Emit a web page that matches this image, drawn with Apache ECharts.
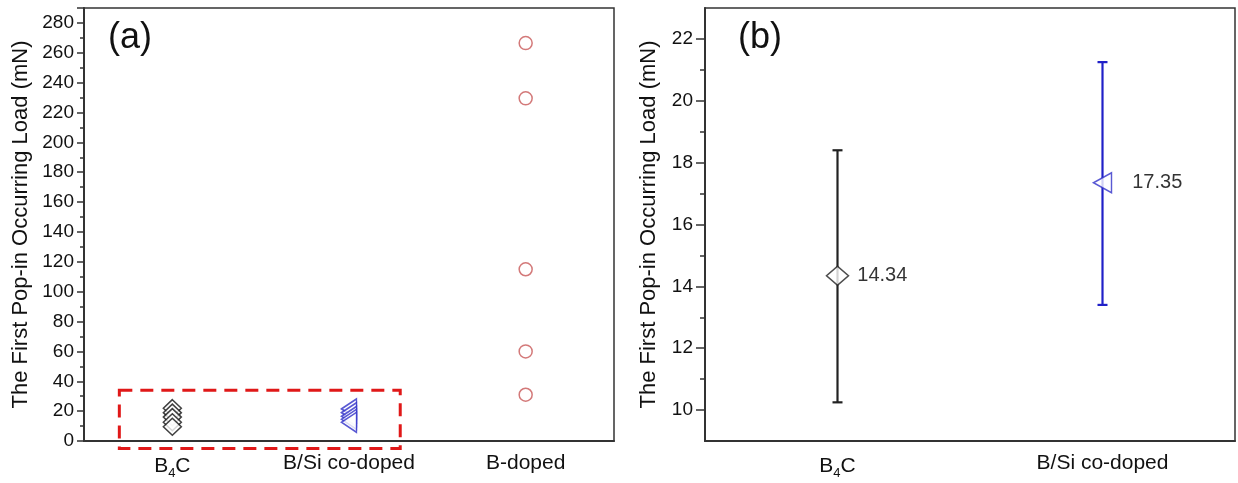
<!DOCTYPE html>
<html>
<head>
<meta charset="utf-8">
<script src="https://cdn.jsdelivr.net/npm/echarts@6/dist/echarts.min.js"></script>
<style>
  html, body { margin: 0; padding: 0; background: #fff; }
  #main { width: 1238px; height: 483px; }
</style>
</head>
<body>
<div id="main"></div>
<script>
// (a) individual pop-in loads
const catsA = ['B4C', 'B/Si co-doped', 'B-doped'];
const b4cLoads = [22, 19, 16, 12.5, 9.5];
const bsiLoads = [21.5, 19, 16.5, 14.5, 12.5];
const bDopedLoads = [266.5, 229.5, 115, 60, 31];
// dashed box round the low values: [x from, x to] in categories, [y from, y to] in mN
const boxX = [-0.3, 1.29];
const boxY = [-5, 34];

// (b) mean with error bar
const catsB = ['B4C', 'B/Si co-doped'];
const meanLoads = [14.34, 17.35];
const lowLoads = [10.25, 13.4];
const highLoads = [18.4, 21.25];
const ticksB = [10, 12, 14, 16, 18, 20, 22];
const minorTicksB = [11, 13, 15, 17, 19, 21];

const font = 'Liberation Sans, Arial, sans-serif';
const axisColor = '#333';
const textColor = '#111';

function catLabel(v) {
    if (v === 'B4C') return '{n|B}{s|4}{n|C}';
    return '{n|' + v + '}';
}
const catRich = {
    n: { fontSize: 21, fontFamily: font, color: textColor },
    s: { fontSize: 13, fontFamily: font, color: textColor, padding: [14, 0, 0, 0] }
};

const yName = 'The First Pop-in Occurring Load (mN)';

let option = {
    animation: false,
    graphic: [
        { type: 'text', left: 108, top: 20, style: { text: '(a)', font: '36px ' + font, fill: '#111' } },
        { type: 'text', left: 738, top: 20, style: { text: '(b)', font: '36px ' + font, fill: '#111' } }
    ],
    grid: [
        { left: 84, top: 8, width: 530, bottom: 42, show: true, borderColor: axisColor, borderWidth: 1.5 },
        { left: 705, top: 8, width: 530, bottom: 42, show: true, borderColor: axisColor, borderWidth: 1.5 }
    ],
    xAxis: [
        {
            type: 'category', gridIndex: 0, data: catsA,
            axisLine: { lineStyle: { color: axisColor, width: 2 } },
            axisTick: { alignWithLabel: true, length: 7, lineStyle: { color: axisColor, width: 1.5 } },
            axisLabel: { margin: 12, formatter: catLabel, rich: catRich },
            splitLine: { show: false }
        },
        {
            type: 'category', gridIndex: 1, data: catsB,
            axisLine: { lineStyle: { color: axisColor, width: 2 } },
            axisTick: { alignWithLabel: true, length: 7, lineStyle: { color: axisColor, width: 1.5 } },
            axisLabel: { margin: 12, formatter: catLabel, rich: catRich },
            splitLine: { show: false }
        }
    ],
    yAxis: [
        {
            type: 'value', gridIndex: 0, min: 0, max: 290, interval: 20,
            name: yName, nameLocation: 'middle', nameGap: 52,
            nameTextStyle: { fontSize: 22, fontFamily: font, color: textColor },
            axisLine: { show: true, lineStyle: { color: axisColor, width: 2 } },
            axisTick: { show: true, length: 7, lineStyle: { color: axisColor, width: 1.5 } },
            minorTick: { show: true, splitNumber: 2, length: 4, lineStyle: { color: axisColor, width: 1.5 } },
            axisLabel: { fontSize: 19, fontFamily: font, color: textColor, margin: 10 },
            splitLine: { show: false }
        },
        {
            type: 'value', gridIndex: 1, min: 9, max: 23,
            name: yName, nameLocation: 'middle', nameGap: 45,
            nameTextStyle: { fontSize: 22, fontFamily: font, color: textColor },
            axisLine: { show: true, lineStyle: { color: axisColor, width: 2 } },
            axisTick: { show: true, length: 9, customValues: ticksB, lineStyle: { color: axisColor, width: 1.5 } },
            axisLabel: { fontSize: 19, fontFamily: font, color: textColor, margin: 12, customValues: ticksB },
            splitLine: { show: false }
        },
        {
            // minor ticks of (b)
            type: 'value', gridIndex: 1, min: 9, max: 23, position: 'left',
            axisLine: { show: false },
            axisTick: { show: true, length: 5, customValues: minorTicksB, lineStyle: { color: axisColor, width: 1.5 } },
            axisLabel: { show: false },
            splitLine: { show: false }
        }
    ],
    series: [
        {
            type: 'scatter', xAxisIndex: 0, yAxisIndex: 0,
            symbol: 'diamond', symbolSize: [18, 17],
            itemStyle: { color: '#fff', borderColor: '#111', borderWidth: 1.5 },
            data: b4cLoads.map(v => [0, v])
        },
        {
            type: 'scatter', xAxisIndex: 0, yAxisIndex: 0,
            symbol: 'triangle', symbolRotate: 90, symbolSize: [20, 15],
            itemStyle: { color: '#fff', borderColor: '#3030c8', borderWidth: 1.5 },
            data: bsiLoads.map(v => [1, v])
        },
        {
            type: 'scatter', xAxisIndex: 0, yAxisIndex: 0,
            symbol: 'circle', symbolSize: 13,
            itemStyle: { color: 'rgba(255,255,255,0)', borderColor: '#c85858', borderWidth: 1.5 },
            data: bDopedLoads.map(v => [2, v])
        },
        {
            // dashed box
            type: 'custom', xAxisIndex: 0, yAxisIndex: 0, clip: false, silent: true, z: 1,
            data: [[0, boxY[0], boxY[1]]],
            renderItem: function (params, api) {
                const band = api.size([1, 0])[0];
                const c = api.coord([api.value(0), api.value(1)]);
                const t = api.coord([api.value(0), api.value(2)]);
                const x0 = c[0] + boxX[0] * band;
                const x1 = c[0] + boxX[1] * band;
                return {
                    type: 'rect',
                    shape: { x: x0, y: t[1], width: x1 - x0, height: c[1] - t[1] },
                    style: { fill: 'none', stroke: '#e01818', lineWidth: 3, lineDash: [13, 8] }
                };
            }
        },
        {
            // error bars
            type: 'custom', xAxisIndex: 1, yAxisIndex: 1,
            data: catsB.map((c, i) => [i, lowLoads[i], highLoads[i]]),
            renderItem: function (params, api) {
                const lo = api.coord([api.value(0), api.value(1)]);
                const hi = api.coord([api.value(0), api.value(2)]);
                const color = params.dataIndex === 0 ? '#222' : '#2020c8';
                const w = 5;
                const st = { stroke: color, lineWidth: 2.2 };
                return {
                    type: 'group',
                    children: [
                        { type: 'line', shape: { x1: lo[0], y1: lo[1], x2: hi[0], y2: hi[1] }, style: st },
                        { type: 'line', shape: { x1: lo[0] - w, y1: lo[1], x2: lo[0] + w, y2: lo[1] }, style: st },
                        { type: 'line', shape: { x1: hi[0] - w, y1: hi[1], x2: hi[0] + w, y2: hi[1] }, style: st }
                    ]
                };
            }
        },
        {
            type: 'scatter', xAxisIndex: 1, yAxisIndex: 1, z: 5,
            label: {
                show: true, position: 'right', fontSize: 20, fontFamily: font, color: '#000',
                formatter: p => p.value[1].toFixed(2)
            },
            data: [
                {
                    value: [0, meanLoads[0]], symbol: 'diamond', symbolSize: [22, 19],
                    itemStyle: { color: '#fff', borderColor: '#222', borderWidth: 1.5 },
                    label: { distance: 8 }
                },
                {
                    value: [1, meanLoads[1]], symbol: 'triangle', symbolRotate: 90, symbolSize: [20, 18],
                    itemStyle: { color: '#fff', borderColor: '#3030c8', borderWidth: 1.5 },
                    label: { distance: 20 }
                }
            ]
        }
    ]
};

let chart = echarts.init(document.getElementById('main'));
chart.setOption(option);
</script>
</body>
</html>
